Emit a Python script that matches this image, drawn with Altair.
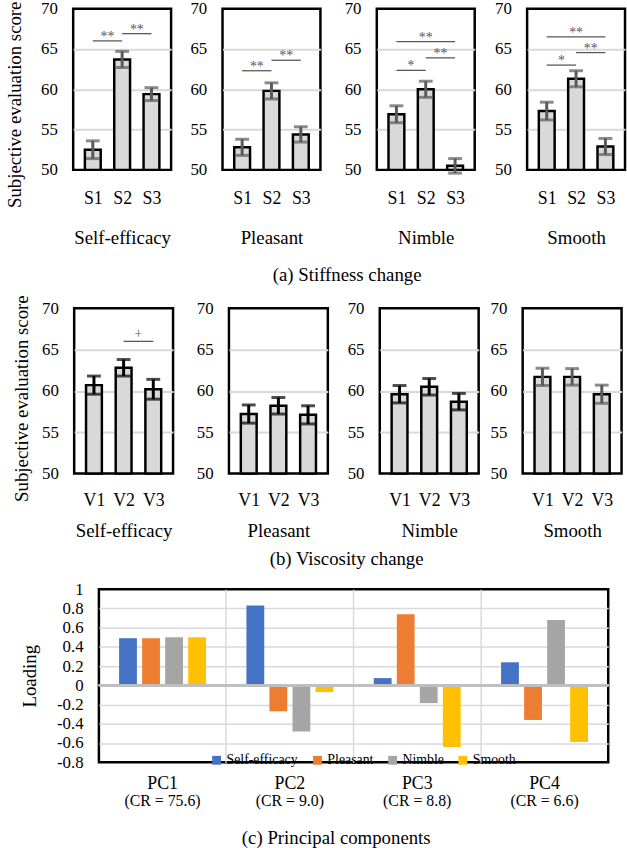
import altair as alt
import pandas as pd

FONT = "Liberation Serif"

# ---------------- data ----------------
attributes = ["Self-efficacy", "Pleasant", "Nimble", "Smooth"]

stiffness_conditions = ["S1", "S2", "S3"]
stiffness_means = [
    [52.5, 63.7, 59.4],
    [52.8, 59.8, 54.4],
    [56.9, 60.0, 50.5],
    [57.3, 61.3, 52.9],
]
stiffness_errors = [
    [1.1, 1.0, 0.8],
    [1.0, 1.0, 0.95],
    [1.05, 1.0, 0.9],
    [1.1, 1.0, 1.0],
]
# (from, to, height on score axis, label)
stiffness_significance = [
    [("S1", "S2", 66.0, "**"), ("S2", "S3", 66.9, "**")],
    [("S1", "S2", 62.3, "**"), ("S2", "S3", 63.6, "**")],
    [("S1", "S3", 65.9, "**"), ("S1", "S2", 62.35, "*"), ("S2", "S3", 63.9, "**")],
    [("S1", "S3", 66.5, "**"), ("S1", "S2", 63.0, "*"), ("S2", "S3", 64.55, "**")],
]

viscosity_conditions = ["V1", "V2", "V3"]
viscosity_means = [
    [60.7, 62.8, 60.2],
    [57.2, 58.2, 57.1],
    [59.6, 60.5, 58.7],
    [61.7, 61.7, 59.6],
]
viscosity_errors = [
    [1.1, 1.0, 1.2],
    [1.1, 1.0, 1.1],
    [1.05, 1.0, 1.0],
    [1.05, 1.0, 1.1],
]
viscosity_significance = [
    [("V2", "V3", 66.0, "+")],
    [],
    [],
    [],
]

score_ticks = [50, 55, 60, 65, 70]

components = ["PC1", "PC2", "PC3", "PC4"]
contribution_labels = ["(CR = 75.6)", "(CR = 9.0)", "(CR = 8.8)", "(CR = 6.6)"]
loading_self_efficacy = [0.49, 0.83, 0.075, 0.24]
loading_pleasant = [0.49, -0.27, 0.74, -0.36]
loading_nimble = [0.50, -0.48, -0.185, 0.68]
loading_smooth = [0.50, -0.07, -0.64, -0.59]
loading_ticks = [-0.8, -0.6, -0.4, -0.2, 0, 0.2, 0.4, 0.6, 0.8, 1]

attribute_colors = ["#4472C4", "#ED7D31", "#A5A5A5", "#FFC000"]


# ---------------- score panels ----------------
def score_panel(conds, means, errs, sigs, attr, w, h, extent, first,
                ytitle_pad, ytitle_y, xlab_pad, xtitle_pad, err_color, sig_dy):
    n = len(conds)
    pos = list(range(1, n + 1))
    df = pd.DataFrame({
        "pos": pos,
        "cond": conds,
        "mean": means,
        "lo": [m - e for m, e in zip(means, errs)],
        "hi": [m + e for m, e in zip(means, errs)],
    })
    xs = alt.Scale(domain=[0.5, n + 0.5], nice=False, zero=False)
    ys = alt.Scale(domain=[score_ticks[0], score_ticks[-1]], nice=False, zero=False)
    lab_expr = "[" + ",".join("'%s'" % c for c in conds) + "][datum.value - 1]"

    xaxis = alt.Axis(values=pos, labelExpr=lab_expr, title=attr, grid=False,
                     domain=False, ticks=False, tickSize=0, labelPadding=xlab_pad,
                     labelFont=FONT, labelFontSize=18, labelColor="black", labelAngle=0,
                     titleFont=FONT, titleFontSize=19, titleFontWeight="normal",
                     titleColor="black", titlePadding=xtitle_pad)
    yargs = dict(values=score_ticks, grid=True,
                 gridColor={"condition": {"test": "datum.value <= 50 || datum.value >= 70",
                                          "value": "transparent"},
                            "value": "#D9D9D9"},
                 gridWidth=2, domain=False, ticks=False, tickSize=0, labelPadding=16,
                 labelFont=FONT, labelFontSize=17, labelColor="black",
                 labelOverlap=False, minExtent=extent, maxExtent=extent)
    if first:
        yargs.update(title="Subjective evaluation score", titleFont=FONT, titleFontSize=19,
                     titleFontWeight="normal", titleColor="black",
                     titlePadding=ytitle_pad, titleY=ytitle_y)
    else:
        yargs.update(title=None)
    yaxis = alt.Axis(**yargs)

    bars = alt.Chart(df).mark_bar(size=16, color="#D9D9D9", stroke="black",
                                  strokeWidth=2.5).encode(
        x=alt.X("pos:Q", scale=xs, axis=xaxis),
        y=alt.Y("mean:Q", scale=ys, axis=yaxis),
        y2=alt.datum(50),
    )
    err = alt.Chart(df).mark_rule(color=err_color, strokeWidth=3).encode(
        x=alt.X("pos:Q", scale=xs, axis=xaxis),
        y=alt.Y("lo:Q", scale=ys, axis=yaxis),
        y2="hi:Q",
    )
    cap_lo = alt.Chart(df).mark_tick(orient="horizontal", size=14, thickness=3,
                                     color=err_color).encode(
        x=alt.X("pos:Q", scale=xs, axis=xaxis),
        y=alt.Y("lo:Q", scale=ys, axis=yaxis),
    )
    cap_hi = alt.Chart(df).mark_tick(orient="horizontal", size=14, thickness=3,
                                     color=err_color).encode(
        x=alt.X("pos:Q", scale=xs, axis=xaxis),
        y=alt.Y("hi:Q", scale=ys, axis=yaxis),
    )
    layers = [bars, err, cap_lo, cap_hi]
    if sigs:
        sdf = pd.DataFrame({
            "a": [conds.index(s[0]) + 1 for s in sigs],
            "b": [conds.index(s[1]) + 1 for s in sigs],
            "level": [s[2] for s in sigs],
            "label": [s[3] for s in sigs],
        })
        sdf["mid"] = (sdf["a"] + sdf["b"]) / 2
        rule = alt.Chart(sdf).mark_rule(color="#595959", strokeWidth=1.3).encode(
            x=alt.X("a:Q", scale=xs, axis=xaxis),
            x2="b:Q",
            y=alt.Y("level:Q", scale=ys, axis=yaxis),
        )
        txt = alt.Chart(sdf).mark_text(font=FONT, fontSize=14, color="#595959",
                                       baseline="alphabetic", dy=sig_dy).encode(
            x=alt.X("mid:Q", scale=xs, axis=xaxis),
            y=alt.Y("level:Q", scale=ys, axis=yaxis),
            text="label:N",
        )
        layers += [rule, txt]
    return alt.layer(*layers).properties(
        width=w, height=h,
        view=alt.ViewBackground(stroke="black", strokeWidth=2.5),
    )


def score_panels(conds, means, errs, sigs, w, h, extents, ytitle_pad, ytitle_y,
                 xlab_pad, xtitle_pad, err_colors, sig_dy):
    return [score_panel(conds, means[k], errs[k], sigs[k], attr, w, h,
                        extents[k], k == 0, ytitle_pad, ytitle_y,
                        xlab_pad, xtitle_pad, err_colors[k], sig_dy)
            for k, attr in enumerate(attributes)]


def row_title(text, offset, dx):
    return alt.TitleParams(text, orient="bottom", anchor="middle", font=FONT,
                           fontSize=19, fontWeight="normal", color="black",
                           offset=offset, dx=dx)


def spacer():
    return alt.Chart(pd.DataFrame({"s": [0]})).mark_point(size=0, opacity=0).properties(
        width=1, height=1)


panels_a = score_panels(stiffness_conditions, stiffness_means, stiffness_errors,
                        stiffness_significance, 99, 163, [34, 38, 43, 39], 15, 96.7,
                        20, 21.5, ["#595959"] * 4, 0)
row_a = alt.hconcat(*panels_a, spacing=10).properties(
    title=row_title("(a) Stiffness change", 18, 32))

panels_b = score_panels(viscosity_conditions, viscosity_means, viscosity_errors,
                        viscosity_significance, 100, 167, [34, 128, 124, 116], 9.5, 90.8,
                        18, 13, ["black", "black", "black", "#595959"], -3)
row_b = alt.hconcat(spacer(), *panels_b, spacing=-75.5).properties(
    title=row_title("(b) Viscosity change", 8, 30))

# ---------------- principal components ----------------
rows = []
for k, pc in enumerate(components):
    for attr, vals in zip(attributes, [loading_self_efficacy, loading_pleasant,
                                       loading_nimble, loading_smooth]):
        rows.append({"pc": pc, "attr": attr, "value": vals[k]})
df_c = pd.DataFrame(rows)
df_cr = pd.DataFrame({"pc": components, "cr": contribution_labels})

W_C, H_C = 515, 175
xs_c = alt.Scale(domain=components, paddingInner=0, paddingOuter=0)
ys_c = alt.Scale(domain=[loading_ticks[0], loading_ticks[-1]], nice=False, zero=False)

xaxis_c = alt.Axis(title=None, bandPosition=0, grid=True,
                   gridColor={"condition": {"test": "datum.value == 'PC1'",
                                            "value": "transparent"},
                              "value": "#D9D9D9"},
                   gridWidth=1.5, domain=False, ticks=False, tickSize=0,
                   labelPadding=13, labelFont=FONT,
                   labelFontSize=18, labelAngle=0, labelColor="black")
yaxis_c = alt.Axis(values=loading_ticks, title="Loading", grid=True,
                   gridColor={"condition": {"test": "datum.value > 0.95 || datum.value < -0.75",
                                            "value": "transparent"},
                              "value": "#D9D9D9"},
                   gridWidth=1.5, domain=False, ticks=False, tickSize=0,
                   labelPadding=16, labelFont=FONT, labelFontSize=17,
                   labelColor="black", labelOverlap=False,
                   labelExpr="replace(format(datum.value, '.1~f'), '\u2212', '-')",
                   titleFont=FONT, titleFontSize=19, titleFontWeight="normal",
                   titleColor="black", titlePadding=15,
                   minExtent=45, maxExtent=45)

bars_c = alt.Chart(df_c).mark_bar().encode(
    x=alt.X("pc:N", scale=xs_c, axis=xaxis_c),
    xOffset=alt.XOffset("attr:N", sort=attributes,
                        scale=alt.Scale(domain=attributes, paddingInner=0.227,
                                        paddingOuter=0.877)),
    y=alt.Y("value:Q", scale=ys_c, axis=yaxis_c),
    color=alt.Color("attr:N", sort=attributes,
                    scale=alt.Scale(domain=attributes, range=attribute_colors),
                    legend=alt.Legend(orient="none", legendX=112, legendY=166,
                                      direction="horizontal", columns=4, title=None,
                                      symbolType="square", symbolSize=80,
                                      symbolStrokeWidth=0, labelFont=FONT,
                                      labelFontSize=14, labelColor="black",
                                      columnPadding=12, labelOffset=3, padding=0)),
)
zero_c = alt.Chart(df_c).mark_rule(color="#BFBFBF", strokeWidth=2).encode(
    y=alt.Y(datum=0, scale=ys_c, axis=yaxis_c))
cr_text = alt.Chart(df_cr).mark_text(font=FONT, fontSize=16, baseline="middle",
                                     color="black").encode(
    x=alt.X("pc:N", scale=xs_c, axis=xaxis_c),
    y=alt.value(H_C + 39),
    text="cr:N",
)
chart_c = alt.layer(bars_c, zero_c, cr_text).properties(
    width=W_C, height=H_C,
    view=alt.ViewBackground(stroke="black", strokeWidth=2.5),
    title=alt.TitleParams("(c) Principal components", orient="bottom", anchor="middle",
                          font=FONT, fontSize=19, fontWeight="normal", color="black",
                          offset=21, dx=-17.5),
)
row_c = alt.hconcat(spacer(), chart_c, spacing=-56).resolve_scale(color="independent")

upper = alt.vconcat(row_a, row_b, spacing=8)
chart = alt.vconcat(upper, row_c, spacing=9).resolve_scale(
    color="independent").properties(
    padding={"left": 4, "top": -7, "right": 0, "bottom": 0},
    background="white",
).configure(font=FONT).configure_view(stroke="transparent")

chart.save("out.html", embed_options={"renderer": "svg", "actions": False})
